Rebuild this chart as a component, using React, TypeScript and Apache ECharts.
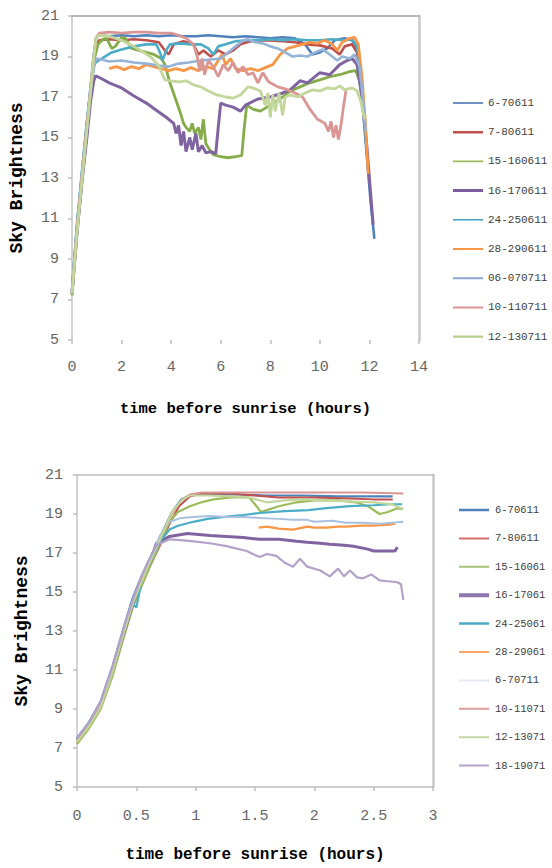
import React, { useEffect, useRef } from "react";
import * as echarts from "echarts";

// ---------- Top chart (full night) ----------
const topNames = ["6-70611", "7-80611", "15-160611", "16-170611", "24-250611", "28-290611", "06-070711", "10-110711", "12-130711"];
const topColors = ["#4F81BD", "#C0504D", "#86AC4A", "#8064A2", "#4BACC6", "#F79646", "#95B3D7", "#D99694", "#C3D69B"];
const topLegendColors = ["#3F70AD", "#C0504D", "#9BBB59", "#7A5E9C", "#3FA0BA", "#F79646", "#8AA8D2", "#D99694", "#B9CF8E"];
const topLegendWidths = [1.6, 2.5, 1.8, 3, 1.6, 1.8, 2, 2, 2.2];
const topXTicks = [0, 14, 2];
const yTicks = [5, 21, 2];

const t6_70611 = [[0,7.4],[0.2,10.6],[0.4,13.2],[0.6,15.7],[0.75,17.5],[0.87,19.0],[0.97,19.9],[1.1,20.05],[1.5,20.0],[2,20.05],[2.5,20.0],[3,20.05],[3.5,20.0],[4,20.05],[4.5,20.0],[5,20.0],[5.5,20.05],[6,20.0],[6.5,19.95],[7,20.0],[7.5,19.95],[8,19.9],[8.5,19.95],[9,19.9],[9.4,19.6],[9.7,19.1],[10,19.2],[10.3,19.4],[10.6,19.8],[11,19.9],[11.3,19.8],[11.5,19.4],[11.7,17.0],[11.9,14.0],[12.05,11.8],[12.2,10.0]];
const t7_80611 = [[0,7.3],[0.2,10.4],[0.4,12.9],[0.6,15.4],[0.75,17.2],[0.87,18.8],[0.97,19.6],[1.1,19.8],[1.5,19.85],[2,19.8],[2.5,19.85],[3,19.8],[3.5,19.7],[3.75,19.3],[3.9,19.1],[4.1,19.6],[4.5,19.75],[4.9,19.6],[5.1,19.1],[5.3,19.3],[5.6,19.0],[5.9,19.3],[6.2,19.1],[6.5,19.3],[6.8,19.6],[7.2,19.75],[7.8,19.8],[8.5,19.75],[9,19.7],[9.5,19.6],[10,19.55],[10.5,19.4],[10.8,19.1],[11,19.5],[11.3,19.6],[11.5,19.2],[11.7,17.2],[11.85,15.2]];
const t15_160611 = [[0,7.2],[0.2,10.2],[0.4,12.8],[0.6,15.3],[0.75,17.2],[0.9,18.9],[1.05,19.6],[1.25,19.85],[1.4,19.9],[1.6,19.4],[1.75,19.5],[2.0,19.95],[2.15,19.9],[2.4,19.4],[2.7,19.3],[3.0,19.2],[3.3,19.1],[3.6,18.9],[3.75,18.6],[3.95,17.7],[4.15,17.0],[4.35,16.3],[4.5,15.7],[4.6,15.5],[4.75,15.3],[4.85,15.7],[4.95,15.2],[5.1,15.5],[5.2,14.9],[5.3,15.9],[5.4,14.7],[5.55,14.4],[5.7,14.15],[6.0,14.05],[6.3,14.0],[6.6,14.05],[6.85,14.1],[6.95,15.5],[7.05,16.6],[7.3,16.4],[7.6,16.3],[8.0,16.6],[8.4,16.9],[8.8,17.3],[9.2,17.5],[9.6,17.7],[10.0,17.85],[10.4,18.0],[10.8,18.1],[11.2,18.25],[11.45,18.3],[11.6,17.8],[11.75,16.5]];
const t16_170611 = [[0,7.3],[0.2,10.3],[0.4,12.8],[0.6,15.0],[0.75,16.8],[0.88,17.8],[0.95,18.05],[1.2,17.9],[1.5,17.7],[2.0,17.45],[2.5,17.05],[3.0,16.7],[3.4,16.35],[3.8,16.0],[4.1,15.7],[4.2,15.2],[4.3,15.6],[4.4,14.6],[4.5,15.3],[4.6,14.3],[4.75,15.0],[4.85,14.4],[5.0,15.2],[5.1,14.3],[5.25,14.6],[5.4,14.25],[5.6,14.3],[5.8,14.2],[5.9,15.5],[6.0,16.7],[6.2,16.6],[6.5,16.5],[6.8,16.3],[7.0,16.6],[7.5,16.9],[8.0,17.0],[8.5,17.2],[8.8,17.35],[9.2,17.8],[9.5,17.7],[10.0,18.2],[10.4,18.1],[10.8,18.6],[11.1,18.8],[11.3,18.9],[11.5,18.6],[11.7,17.0],[11.9,14.5],[12.05,12.2],[12.15,10.7]];
const t24_250611 = [[0,7.5],[0.2,10.7],[0.4,13.3],[0.6,15.8],[0.75,17.4],[0.85,18.4],[0.95,18.7],[1.2,18.9],[1.6,19.2],[2.0,19.35],[2.5,19.5],[3.0,19.6],[3.4,19.6],[3.55,19.2],[3.65,18.8],[3.8,19.3],[3.95,19.6],[4.4,19.65],[4.8,19.6],[5.2,19.6],[5.5,19.4],[5.7,19.1],[5.9,19.5],[6.2,19.6],[6.6,19.75],[7.0,19.8],[7.5,19.8],[8.0,19.85],[8.5,19.8],[9.0,19.85],[9.5,19.8],[10,19.8],[10.5,19.85],[11,19.8],[11.3,19.85],[11.5,19.5],[11.7,17.5],[11.9,14.2]];
const t28_290611 = [[1.5,18.4],[1.8,18.5],[2.1,18.35],[2.4,18.5],[2.7,18.4],[3.0,18.6],[3.3,18.5],[3.6,18.4],[3.9,18.3],[4.2,18.4],[4.5,18.3],[4.8,18.45],[5.1,18.3],[5.4,18.5],[5.7,18.4],[5.9,18.8],[6.05,19.1],[6.2,18.6],[6.4,18.9],[6.6,18.4],[6.9,18.3],[7.2,18.4],[7.5,18.3],[7.8,18.45],[8.1,18.6],[8.4,19.1],[8.7,19.4],[9.0,19.5],[9.3,19.6],[9.6,19.7],[9.9,19.65],[10.2,19.8],[10.5,19.6],[10.7,19.3],[10.9,19.7],[11.2,19.9],[11.4,19.95],[11.55,19.6],[11.7,18.0],[11.85,15.5],[11.95,13.2]];
const t06_070711 = [[0,7.3],[0.2,10.4],[0.4,13.0],[0.6,15.4],[0.75,17.2],[0.88,18.5],[0.97,18.9],[1.2,18.85],[1.5,18.75],[2.0,18.8],[2.5,18.7],[3.0,18.65],[3.5,18.55],[3.9,18.5],[4.3,18.65],[4.7,18.7],[5.2,18.8],[5.6,18.85],[6.0,18.9],[6.3,19.2],[6.6,19.5],[6.9,19.8],[7.1,19.85],[7.4,19.7],[7.7,19.65],[8.0,19.5],[8.3,19.4],[8.6,19.2],[8.9,19.0],[9.2,19.05],[9.5,19.0],[9.8,19.2],[10.1,19.35],[10.4,19.1],[10.7,18.8],[10.9,19.0],[11.2,18.9],[11.4,19.1],[11.6,18.5],[11.75,16.8],[11.85,15.3]];
const t10_110711 = [[0,7.3],[0.2,10.5],[0.4,13.1],[0.6,15.6],[0.75,17.4],[0.87,18.9],[0.97,19.9],[1.1,20.15],[1.5,20.2],[2,20.15],[2.5,20.2],[3,20.2],[3.5,20.15],[4,20.15],[4.3,20.05],[4.6,19.9],[4.9,19.6],[5.05,19.0],[5.15,18.3],[5.25,18.9],[5.35,18.1],[5.5,18.8],[5.7,18.5],[5.9,18.0],[6.1,18.6],[6.3,18.3],[6.5,18.7],[6.7,18.2],[6.9,18.5],[7.1,18.1],[7.3,18.2],[7.5,17.7],[7.7,18.2],[7.9,17.8],[8.0,17.7],[8.3,17.5],[8.6,17.4],[9.0,17.2],[9.3,17.0],[9.6,16.4],[9.9,15.9],[10.2,15.7],[10.35,15.3],[10.45,15.8],[10.55,15.0],[10.65,15.6],[10.75,14.9],[10.85,15.6],[10.95,16.5],[11.05,17.3]];
const t12_130711 = [[0,7.3],[0.2,10.3],[0.4,12.9],[0.6,15.4],[0.75,17.3],[0.87,18.9],[0.97,19.9],[1.1,20.05],[1.5,20.0],[2.0,19.8],[2.5,19.5],[2.9,19.2],[3.2,18.95],[3.5,18.55],[3.65,18.1],[3.75,17.85],[4.0,17.8],[4.3,17.75],[4.6,17.8],[4.9,17.6],[5.2,17.5],[5.5,17.3],[5.85,17.1],[6.2,17.0],[6.5,16.95],[6.8,17.1],[7.1,17.5],[7.3,17.45],[7.6,17.3],[7.8,16.6],[7.9,17.2],[8.0,16.0],[8.1,17.1],[8.2,16.3],[8.35,17.2],[8.5,16.1],[8.6,17.0],[8.8,17.1],[9.1,17.0],[9.4,17.2],[9.7,17.35],[10.0,17.3],[10.3,17.45],[10.6,17.4],[10.8,17.55],[11.0,17.35],[11.3,17.45],[11.5,17.3],[11.65,16.8],[11.8,15.9]];
const topData = [t6_70611, t7_80611, t15_160611, t16_170611, t24_250611, t28_290611, t06_070711, t10_110711, t12_130711];

// ---------- Bottom chart (first 3 hours) ----------
const botNames = ["6-70611", "7-80611", "15-16061", "16-17061", "24-25061", "28-29061", "6-70711", "10-11071", "12-13071", "18-19071"];
const botColors = ["#4F81BD", "#C0504D", "#9BBB59", "#8064A2", "#4BACC6", "#F79646", "#A9C0DF", "#D99694", "#C3D69B", "#B3A2C7"];
const botLegendColors = ["#4F81BD", "#D06F6C", "#A8C47A", "#8E76B0", "#4BACC6", "#F8A76A", "#E3EAF4", "#DE9C9A", "#C6D8A2", "#B6A6CA"];
const botLegendWidths = [2.5, 2, 2, 4, 2.5, 2, 2, 2, 2, 2];
const botXTicks = [0, 3, 0.5];

const b6_70611 = [[0,7.5],[0.1,8.3],[0.2,9.4],[0.3,11.2],[0.4,13.3],[0.47,14.7],[0.55,15.9],[0.62,16.8],[0.7,17.8],[0.8,19.1],[0.88,19.75],[0.95,19.95],[1.05,20.0],[1.3,20.0],[1.6,19.95],[1.9,19.95],[2.2,19.9],[2.5,19.9],[2.66,19.9]];
const b7_80611 = [[0,7.3],[0.1,8.1],[0.2,9.1],[0.3,10.8],[0.4,12.9],[0.47,14.3],[0.52,15.0],[0.55,15.4],[0.62,16.4],[0.7,17.4],[0.78,18.5],[0.86,19.4],[0.95,19.9],[1.05,20.05],[1.3,20.05],[1.5,19.95],[1.7,19.85],[2.0,19.85],[2.3,19.8],[2.5,19.75],[2.66,19.75]];
const b15_16061 = [[0,7.2],[0.1,8.0],[0.2,9.0],[0.3,10.7],[0.4,12.8],[0.47,14.2],[0.55,15.4],[0.62,16.4],[0.7,17.5],[0.78,18.6],[0.85,19.1],[0.95,19.4],[1.05,19.6],[1.15,19.75],[1.3,19.85],[1.45,19.85],[1.5,19.5],[1.55,19.1],[1.6,19.2],[1.7,19.4],[1.85,19.6],[2.0,19.7],[2.2,19.7],[2.35,19.6],[2.45,19.4],[2.55,19.0],[2.62,19.1],[2.7,19.3],[2.74,19.25]];
const b16_17061 = [[0,7.4],[0.1,8.2],[0.2,9.2],[0.3,11.0],[0.4,13.0],[0.47,14.4],[0.55,15.7],[0.62,16.6],[0.67,17.5],[0.78,17.85],[0.93,18.0],[1.12,17.9],[1.26,17.85],[1.4,17.8],[1.54,17.7],[1.7,17.7],[1.85,17.6],[1.94,17.55],[2.05,17.5],[2.13,17.45],[2.25,17.4],[2.33,17.35],[2.45,17.2],[2.5,17.1],[2.6,17.1],[2.68,17.1],[2.7,17.3]];
const b24_25061 = [[0,7.5],[0.1,8.3],[0.2,9.3],[0.3,11.1],[0.4,13.2],[0.47,14.4],[0.5,14.2],[0.55,15.7],[0.62,16.6],[0.7,17.6],[0.78,18.2],[0.85,18.4],[0.98,18.6],[1.1,18.75],[1.26,18.87],[1.4,18.95],[1.54,19.05],[1.75,19.15],[1.95,19.2],[2.1,19.3],[2.3,19.4],[2.5,19.45],[2.65,19.5],[2.74,19.5]];
const b28_29061 = [[1.53,18.3],[1.6,18.35],[1.7,18.25],[1.82,18.2],[1.94,18.35],[2.0,18.3],[2.1,18.3],[2.2,18.35],[2.27,18.35],[2.4,18.4],[2.5,18.4],[2.63,18.45],[2.68,18.5]];
const b6_70711 = [[0,7.4],[0.1,8.2],[0.2,9.3],[0.3,11.1],[0.4,13.2],[0.47,14.5],[0.55,15.8],[0.62,16.7],[0.7,17.9],[0.78,18.6],[0.88,18.8],[0.98,18.85],[1.12,18.9],[1.26,18.85],[1.4,18.85],[1.54,18.8],[1.7,18.75],[1.82,18.7],[1.94,18.7],[2.0,18.6],[2.15,18.65],[2.27,18.55],[2.4,18.55],[2.55,18.5],[2.65,18.55],[2.75,18.6]];
const b10_11071 = [[0,7.4],[0.1,8.2],[0.2,9.2],[0.3,11.0],[0.4,13.1],[0.47,14.5],[0.55,15.7],[0.62,16.7],[0.7,17.7],[0.8,19.0],[0.88,19.7],[0.95,20.0],[1.05,20.1],[1.5,20.1],[2.0,20.1],[2.4,20.1],[2.75,20.05]];
const b12_13071 = [[0,7.3],[0.1,8.1],[0.2,9.1],[0.3,10.9],[0.4,13.0],[0.47,14.4],[0.55,15.6],[0.62,16.6],[0.7,17.7],[0.8,19.1],[0.88,19.7],[0.95,19.95],[1.1,19.95],[1.3,19.9],[1.45,19.85],[1.6,19.6],[1.75,19.7],[1.9,19.75],[2.1,19.7],[2.3,19.65],[2.5,19.6],[2.65,19.5],[2.75,19.25]];
const b18_19071 = [[0,7.5],[0.1,8.3],[0.2,9.4],[0.3,11.2],[0.4,13.3],[0.47,14.6],[0.55,15.9],[0.62,16.8],[0.67,17.4],[0.78,17.7],[0.9,17.65],[0.98,17.6],[1.12,17.5],[1.26,17.35],[1.43,17.1],[1.5,16.9],[1.54,16.8],[1.6,16.95],[1.68,16.85],[1.75,16.5],[1.82,16.3],[1.88,16.7],[1.94,16.3],[2.05,16.1],[2.13,15.8],[2.2,16.2],[2.25,15.8],[2.3,16.1],[2.36,15.75],[2.41,15.7],[2.48,15.9],[2.55,15.6],[2.62,15.55],[2.7,15.5],[2.73,15.4],[2.75,14.6]];
const botData = [b6_70611, b7_80611, b15_16061, b16_17061, b24_25061, b28_29061, b6_70711, b10_11071, b12_13071, b18_19071];
const botWidths = [2.2, 2, 2.2, 3, 2.2, 2.2, 2, 2, 2.2, 2.2];

const mono = "'Liberation Mono', 'DejaVu Sans Mono', monospace";

function lineIcon(w: number) {
  // horizontal bar icon, 30 units wide and w units thick; scaled into itemWidth x itemHeight
  const h = Math.max(1, w);
  const top = 7 - h / 2;
  return `path://M0,0 L0.01,0 L0.01,14 L0,14 Z M0,${top} L30,${top} L30,${top + h} L0,${top + h} Z`;
}

function makeOption(cfg: any) {
  const { names, colors, data, widths, xt, grid, legend, legendColors, legendWidths, xNameSize, borders } = cfg;
  return {
    animation: false,
    grid: { ...grid, containLabel: false },
    legend: {
      orient: "vertical",
      left: legend.left,
      top: legend.top,
      padding: 0,
      itemWidth: legend.itemWidth,
      itemHeight: 14,
      itemGap: legend.itemGap,
      textStyle: { fontFamily: mono, fontSize: legend.fontSize, color: "#404040", lineHeight: 14 },
      data: names.map((n: string, i: number) => ({
        name: n,
        icon: lineIcon(legendWidths[i]),
        itemStyle: { color: (legendColors || colors)[i], borderWidth: 0 },
      })),
    },
    xAxis: [
      {
        type: "value",
        min: xt[0],
        max: xt[1],
        interval: xt[2],
        name: "time before sunrise (hours)",
        nameLocation: "middle",
        nameGap: cfg.xNameGap,
        nameTextStyle: { fontFamily: mono, fontWeight: "bold", fontSize: xNameSize, color: "#000" },
        axisLine: { show: borders.bottom, lineStyle: { color: "#BDBDBD", width: 1.5 } },
        axisTick: { show: true, length: 4, lineStyle: { color: "#BDBDBD", width: 1.5 } },
        axisLabel: { margin: cfg.xLabelMargin, fontFamily: mono, fontSize: 15, color: "#666666" },
        splitLine: { show: false },
      },
      {
        type: "value",
        position: "top",
        min: xt[0],
        max: xt[1],
        axisLine: { show: true, onZero: false, lineStyle: { color: borders.topColor, width: 1.5 } },
        axisTick: { show: false },
        axisLabel: { show: false },
        splitLine: { show: false },
      },
    ],
    yAxis: [
      {
        type: "value",
        min: yTicks[0],
        max: yTicks[1],
        interval: yTicks[2],
        name: "Sky Brightness",
        nameLocation: "middle",
        nameRotate: 90,
        nameGap: cfg.yNameGap,
        nameTextStyle: { fontFamily: mono, fontWeight: "bold", fontSize: 18, color: "#000" },
        axisLine: { show: true, onZero: false, lineStyle: { color: "#C4C4C4", width: 1.5 } },
        axisTick: { show: true, length: 4, lineStyle: { color: "#BDBDBD", width: 1.5 } },
        axisLabel: { margin: cfg.yLabelMargin, fontFamily: mono, fontSize: 15, color: "#666666" },
        splitLine: { show: false },
      },
      {
        type: "value",
        position: "right",
        min: yTicks[0],
        max: yTicks[1],
        axisLine: { show: true, onZero: false, lineStyle: { color: "#C8C8C8", width: 2.5 } },
        axisTick: { show: false },
        axisLabel: { show: false },
        splitLine: { show: false },
      },
    ],
    series: names.map((n: string, i: number) => ({
      name: n,
      type: "line",
      xAxisIndex: 0,
      yAxisIndex: 0,
      data: data[i],
      symbol: "none",
      showSymbol: false,
      lineStyle: { color: colors[i], width: widths[i] },
      itemStyle: { color: colors[i] },
      z: 2,
    })),
  };
}

const topWidths = [2.6, 2.6, 2.8, 3, 2.6, 2.8, 2.6, 2.8, 2.8];

export default function App() {
  const topRef = useRef<HTMLDivElement>(null);
  const botRef = useRef<HTMLDivElement>(null);
  useEffect(() => {
    const c1 = echarts.init(topRef.current!, undefined, { renderer: "svg" });
    const c2 = echarts.init(botRef.current!, undefined, { renderer: "svg" });
    c1.setOption(
      makeOption({
        names: topNames,
        colors: topColors,
        data: topData,
        widths: topWidths,
        xt: topXTicks,
        grid: { left: 72, right: 133, top: 16, bottom: 94 },
        legend: { left: 453, top: 96, itemWidth: 30, itemGap: 15.2, fontSize: 11 },
        legendColors: topLegendColors,
        legendWidths: topLegendWidths,
        xNameSize: 15.5,
        xNameGap: 61,
        xLabelMargin: 20,
        yLabelMargin: 13,
        yNameGap: 46,
        borders: { bottom: false, topColor: "#A0A0A0" },
      })
    );
    c2.setOption(
      makeOption({
        names: botNames,
        colors: botColors,
        data: botData,
        widths: botWidths,
        xt: botXTicks,
        grid: { left: 77, right: 119, top: 41, bottom: 78 },
        legend: { left: 459, top: 69, itemWidth: 32, itemGap: 14.4, fontSize: 10.5 },
        legendColors: botLegendColors,
        legendWidths: botLegendWidths,
        xNameSize: 16,
        xNameGap: 60,
        xLabelMargin: 22,
        yLabelMargin: 14,
        yNameGap: 46,
        borders: { bottom: true, topColor: "#BDBDBD" },
      })
    );
    return () => {
      c1.dispose();
      c2.dispose();
    };
  }, []);
  return (
    <div style={{ position: "absolute", left: 0, top: 0, width: 552, height: 868, background: "#fff" }}>
      <div ref={topRef} style={{ position: "absolute", left: 0, top: 0, width: 552, height: 434 }} />
      <div ref={botRef} style={{ position: "absolute", left: 0, top: 434, width: 552, height: 434 }} />
    </div>
  );
}
